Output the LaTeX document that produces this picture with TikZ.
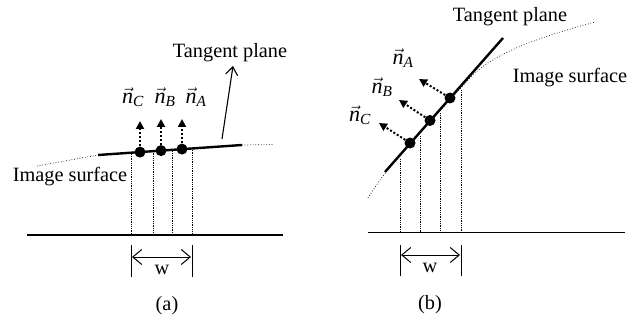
\documentclass[tikz,border=0pt]{standalone}
\usepackage{fontspec}
\setmainfont{Liberation Serif}
\usepackage{amsmath}
\usetikzlibrary{arrows.meta}
\newcommand\nvec[1]{$\vec{\text{\itshape n}}_{\text{\itshape #1}}$}
\begin{document}
\begin{tikzpicture}[x=1pt,y=-1pt,
  lbl/.style={font=\fontsize{20.3}{23}\selectfont, inner sep=0pt},
  vlbl/.style={font=\fontsize{22}{25}\selectfont, inner sep=0pt},
  dotn/.style={circle, fill=black, inner sep=0pt, minimum size=11pt},
  surf/.style={dotted, line width=0.7pt},
  tanl/.style={line width=2.4pt},
  proj/.style={densely dotted, line width=0.8pt},
  base/.style={line width=1.8pt},
  normalv/.style={dotted, line width=2pt, -{Triangle[length=8pt,width=8pt]}},
  dimtick/.style={line width=1pt},
  dimarrow/.style={line width=1pt, {Straight Barb[length=9pt,width=15pt]}-{Straight Barb[length=9pt,width=15pt]}},
  ]
\useasboundingbox (0,0) rectangle (638,321);

% ---------------- panel (a) ----------------
\coordinate (aS0) at (37,166);
\coordinate (aS1) at (98,155);
\coordinate (aS2) at (242,145);
\coordinate (aS3) at (273,144.5);
\draw[surf] (aS0) -- (aS1);
\draw[surf] (aS2) -- (aS3);
\draw[tanl] (aS1) -- (aS2);

\draw[base] (27,235) -- (283,235);

\draw[proj] (131,154) -- (131,235);
\draw[proj] (153,152.5) -- (153,235);
\draw[proj] (172,151.2) -- (172,235);
\draw[proj] (192,149.8) -- (192,235);

\node[dotn] (aC) at (140,152.1) {};
\node[dotn] (aB) at (161,150.6) {};
\node[dotn] (aA) at (182,149.1) {};
\coordinate (aCt) at (140,121);
\coordinate (aBt) at (161,119);
\coordinate (aAt) at (182,119);
\draw[normalv] (aC) -- (aCt);
\draw[normalv] (aB) -- (aBt);
\draw[normalv] (aA) -- (aAt);

\node[vlbl] (anC) at (133,97) {\nvec{C}};
\node[vlbl] (anB) at (165,97) {\nvec{B}};
\node[vlbl] (anA) at (196,97) {\nvec{A}};

\node[lbl] (atp) at (230,53) {Tangent plane};
\coordinate (atpf) at (222,139);
\coordinate (atpt) at (233,66);
\draw[line width=1.1pt, -{Straight Barb[length=8pt,width=12pt]}] (atpf) -- (atpt);

\node[lbl] (ais) at (70,177) {Image surface};

\draw[dimtick] (131,245) -- (131,277);
\draw[dimtick] (192,245) -- (192,277);
\draw[dimarrow] (132,257) -- (191,257);
\node[lbl] (aw) at (162,270) {w};
\node[lbl] (acap) at (167,306) {(a)};

% ---------------- panel (b) ----------------
\draw[surf] (368,198) .. controls (377,184) .. (392,164) -- (470,78) .. controls (495,50) and (555,33) .. (595,22);
\draw[tanl] (385,172) -- (503,38);

\draw[base] (368,232.5) -- (625,232.5);

\draw[proj] (400,159) -- (400,232.5);
\draw[proj] (420,136) -- (420,232.5);
\draw[proj] (440,113) -- (440,232.5);
\draw[proj] (461,90) -- (461,232.5);

\node[dotn] (bC) at (410,143) {};
\node[dotn] (bB) at (430,120.5) {};
\node[dotn] (bA) at (450,98) {};
\coordinate (bCt) at (379,123);
\coordinate (bBt) at (399,100);
\coordinate (bAt) at (419,79);
\draw[normalv] (bC) -- (bCt);
\draw[normalv] (bB) -- (bBt);
\draw[normalv] (bA) -- (bAt);

\node[vlbl] (bnA) at (403,58) {\nvec{A}};
\node[vlbl] (bnB) at (382,87) {\nvec{B}};
\node[vlbl] (bnC) at (360,115) {\nvec{C}};

\node[lbl] (btp) at (510,17) {Tangent plane};
\node[lbl] (bis) at (570,78) {Image surface};

\draw[dimtick] (400,245) -- (400,276);
\draw[dimtick] (461,245) -- (461,276);
\draw[dimarrow] (401,255) -- (460,255);
\node[lbl] (bw) at (430,268) {w};
\node[lbl] (bcap) at (430,305) {(b)};
\end{tikzpicture}
\end{document}
